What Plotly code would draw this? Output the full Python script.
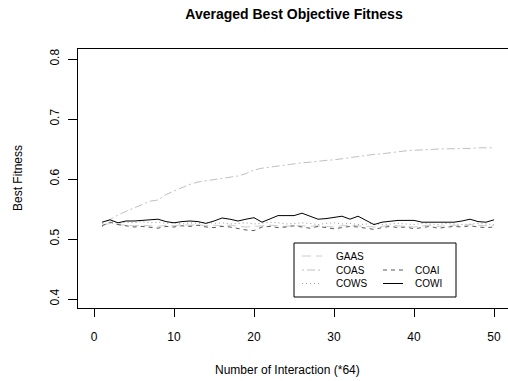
import plotly.graph_objects as go

x = list(range(1, 51))

gaas = [0.523, 0.526, 0.524, 0.523, 0.522, 0.523, 0.522, 0.521, 0.523, 0.522,
        0.524, 0.523, 0.524, 0.522, 0.523, 0.522, 0.523, 0.521, 0.520, 0.521,
        0.522, 0.523, 0.522, 0.521, 0.523, 0.522, 0.521, 0.522, 0.521, 0.520,
        0.522, 0.523, 0.522, 0.521, 0.520, 0.521, 0.523, 0.522, 0.521, 0.520,
        0.522, 0.523, 0.521, 0.522, 0.523, 0.522, 0.524, 0.523, 0.522, 0.523]

coas = [0.525, 0.533, 0.540, 0.546, 0.552, 0.558, 0.563, 0.565, 0.574, 0.580,
        0.586, 0.591, 0.595, 0.597, 0.599, 0.601, 0.603, 0.605, 0.609, 0.615,
        0.618, 0.620, 0.622, 0.624, 0.626, 0.627, 0.628, 0.630, 0.631, 0.632,
        0.634, 0.636, 0.638, 0.640, 0.641, 0.642, 0.644, 0.646, 0.647, 0.648,
        0.648, 0.649, 0.650, 0.650, 0.650, 0.651, 0.651, 0.652, 0.652, 0.652]

coai = [0.522, 0.528, 0.524, 0.522, 0.520, 0.521, 0.519, 0.518, 0.521, 0.520,
        0.522, 0.521, 0.523, 0.520, 0.519, 0.521, 0.520, 0.517, 0.515, 0.514,
        0.520, 0.521, 0.519, 0.520, 0.522, 0.520, 0.518, 0.521, 0.519, 0.517,
        0.519, 0.521, 0.520, 0.518, 0.516, 0.519, 0.521, 0.519, 0.520, 0.517,
        0.519, 0.521, 0.518, 0.519, 0.521, 0.520, 0.522, 0.520, 0.519, 0.520]

cows = [0.520, 0.530, 0.526, 0.528, 0.527, 0.529, 0.527, 0.528, 0.526, 0.527,
        0.525, 0.527, 0.526, 0.528, 0.526, 0.527, 0.525, 0.526, 0.527, 0.525,
        0.526, 0.528, 0.527, 0.525, 0.526, 0.527, 0.526, 0.524, 0.526, 0.527,
        0.525, 0.526, 0.524, 0.525, 0.526, 0.524, 0.525, 0.526, 0.525, 0.524,
        0.526, 0.525, 0.524, 0.526, 0.525, 0.524, 0.525, 0.526, 0.525, 0.524]

cowi = [0.528, 0.532, 0.527, 0.530, 0.530, 0.531, 0.532, 0.533, 0.529, 0.527,
        0.529, 0.530, 0.529, 0.526, 0.530, 0.535, 0.533, 0.530, 0.533, 0.5355,
        0.528, 0.534, 0.539, 0.539, 0.539, 0.543, 0.538, 0.533, 0.534, 0.536,
        0.538, 0.533, 0.538, 0.531, 0.524, 0.528, 0.530, 0.531, 0.531, 0.531,
        0.528, 0.528, 0.527, 0.528, 0.528, 0.530, 0.533, 0.529, 0.528, 0.532]

names = ["GAAS", "COAS", "COAI", "COWS", "COWI"]
series = [gaas, coas, coai, cows, cowi]
colors = ["#cccccc", "#c0c0c0", "#5a5a5a", "#9a9a9a", "#000000"]
dashes = ["9px,5px", "2px,3px,8px,3px", "4px,4px", "1px,3px", "solid"]

FONT = "Liberation Sans, Arial, Helvetica, sans-serif"
W, H = 508, 381
L, T, B, R = 78, 49, 73, 0

fig = go.Figure()
for nm, ys, c, d in zip(names, series, colors, dashes):
    fig.add_trace(go.Scatter(x=x, y=ys, mode="lines", name=nm,
                             line=dict(color=c, width=1, dash=d),
                             showlegend=False))

pw, ph = W - L - R, H - T - B
def px(xp):
    return (xp - L) / pw
def py(yp):
    return (H - B - yp) / ph

shapes = []
annotations = []
# legend box
shapes.append(dict(type="rect", xref="paper", yref="paper",
                   x0=px(294), x1=px(456), y0=py(297), y1=py(243),
                   line=dict(color="black", width=1), fillcolor="white"))
layout_pos = {"GAAS": (0, 0), "COAS": (0, 1), "COWS": (0, 2),
              "COAI": (1, 1), "COWI": (1, 2)}
col_line = [(302, 322), (383, 403)]
col_text = [334, 413]
row_y = [256, 270, 283.5]
for nm, c, d in zip(names, colors, dashes):
    col, row = layout_pos[nm]
    x0, x1 = col_line[col]
    shapes.append(dict(type="line", xref="paper", yref="paper",
                       x0=px(x0), x1=px(x1), y0=py(row_y[row]), y1=py(row_y[row]),
                       line=dict(color=c, width=1, dash=d)))
    annotations.append(dict(text=nm, xref="paper", yref="paper",
                            x=px(col_text[col]), y=py(row_y[row]),
                            xanchor="left", yanchor="middle", showarrow=False,
                            font=dict(size=10, color="black", family=FONT)))

annotations.append(dict(text="Number of Interaction (*64)", xref="paper", yref="paper",
                        x=px(287), y=py(370), xanchor="center", yanchor="middle",
                        showarrow=False, font=dict(size=12, color="black", family=FONT)))
annotations.append(dict(text="Best Fitness", xref="paper", yref="paper",
                        x=px(18), y=py(178), xanchor="center", yanchor="middle",
                        textangle=-90, showarrow=False,
                        font=dict(size=12, color="black", family=FONT)))

fig.update_layout(
    width=W, height=H,
    margin=dict(l=L, r=R, t=T, b=B),
    paper_bgcolor="white", plot_bgcolor="white",
    font=dict(family=FONT, size=12, color="black"),
    title=dict(text="<b>Averaged Best Objective Fitness</b>", x=294 / W, xanchor="center",
               y=1 - 14 / H, yanchor="middle", font=dict(size=14, family=FONT)),
    showlegend=False,
    shapes=shapes,
    annotations=annotations,
)
fig.update_xaxes(range=[-2, -2 + pw / 8.0], tickvals=[0, 10, 20, 30, 40, 50],
                 showgrid=False, zeroline=False, showline=True, mirror=True,
                 linecolor="black", linewidth=1, ticks="outside", ticklen=8,
                 tickcolor="black", ticklabelstandoff=10,
                 tickfont=dict(size=12, family=FONT))
fig.update_yaxes(range=[0.385, 0.385 + ph / 600.0], tickvals=[0.4, 0.5, 0.6, 0.7, 0.8],
                 ticktext=["0.4", "0.5", "0.6", "0.7", "0.8"],
                 showgrid=False, zeroline=False, showline=True, mirror=False,
                 linecolor="black", linewidth=1, ticks="outside", ticklen=9,
                 tickcolor="black", tickangle=-90, ticklabelstandoff=4,
                 tickfont=dict(size=12, family=FONT))

fig.write_html("out.html")
